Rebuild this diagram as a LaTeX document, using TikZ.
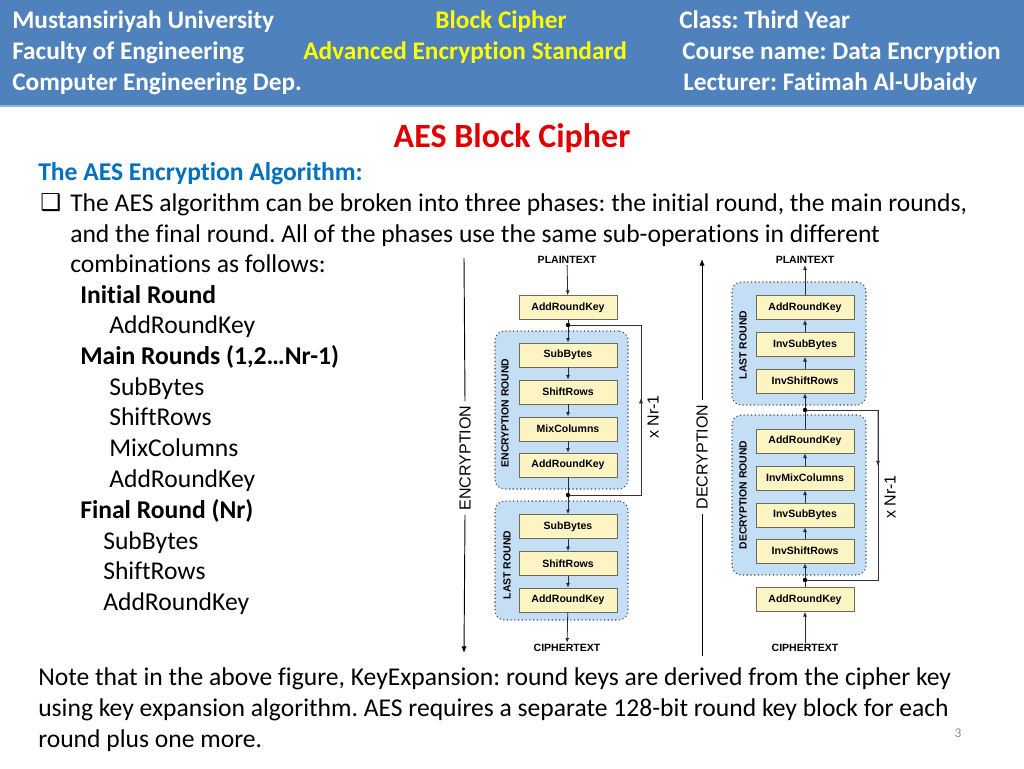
\documentclass[tikz,border=0pt]{standalone}
\usepackage{fontspec}
\setmainfont[Ligatures={NoCommon}]{Carlito}
\newfontfamily\arialf{Liberation Sans}
\newfontfamily\dejavuf{DejaVu Sans}
\usetikzlibrary{arrows.meta,calc}
\frenchspacing
\definecolor{hdr}{HTML}{4F81BD}
\definecolor{hdrline}{HTML}{8DB3E2}
\definecolor{ylw}{HTML}{FFFF00}
\definecolor{ttlred}{HTML}{E00000}
\definecolor{hblue}{HTML}{0070C0}
\definecolor{boxfill}{HTML}{FCF4C2}
\definecolor{boxline}{HTML}{6E6A55}
\definecolor{rfill}{HTML}{C4DEF6}
\definecolor{flowc}{HTML}{1E2D4A}
\definecolor{pgray}{HTML}{8C8C8C}
\tikzset{
  hd/.style={text=white,font=\fontsize{19}{21}\selectfont\bfseries,anchor=base west,inner sep=0},
  hdy/.style={text=ylw,font=\fontsize{19}{21}\selectfont\bfseries,anchor=base,inner sep=0},
  body/.style={font=\fontsize{19.2}{21}\selectfont,anchor=base west,inner sep=0},
  bodyb/.style={font=\fontsize{19.2}{21}\selectfont\bfseries,anchor=base west,inner sep=0},
  opbox/.style={draw=boxline,line width=0.5pt,fill=boxfill,minimum width=73.5pt,minimum height=18pt,inner sep=0,
     font=\arialf\bfseries\fontsize{7.9}{8}\selectfont},
  rbox/.style={draw=black!75,dotted,line width=0.8pt,fill=rfill,rounded corners=7pt,inner sep=0},
  rlabel/.style={rotate=90,font=\arialf\bfseries\fontsize{7.8}{8}\selectfont,inner sep=0},
  io/.style={font=\arialf\bfseries\fontsize{7.9}{8}\selectfont,inner sep=1pt},
  side/.style={rotate=90,font=\arialf\fontsize{12}{12}\selectfont,inner sep=3pt},
  flow/.style={draw=flowc,line width=0.6pt,-{Latex[length=3.5pt,width=3pt]}},
  loopl/.style={draw=black!80,line width=0.6pt},
  tip/.style={draw=black!80,line width=0.6pt,-{Latex[length=4pt,width=3.2pt]}},
  dotc/.style={fill=black},
}
\begin{document}
\begin{tikzpicture}[x=0.75pt,y=-0.75pt]
\useasboundingbox (0,0) rectangle (1024,768);
\fill[white] (0,0) rectangle (1024,768);
% header
\fill[hdr] (0,0) rectangle (1024,106);
\fill[hdrline] (0,105) rectangle (1024,107);
\node[hd] (h1) at (12,28) {Mustansiriyah University};
\node[hd] (h2) at (12,59) {Faculty of Engineering};
\node[hd] (h3) at (12,90) {Computer Engineering Dep.};
\node[hdy] (h4) at (501,28) {Block Cipher};
\node[hdy] (h5) at (465,59) {Advanced Encryption Standard};
\node[hd] (h6) at (679,28) {Class: Third Year};
\node[hd] (h7) at (682,59) {Course name: Data Encryption};
\node[hd] (h8) at (683,90) {Lecturer: Fatimah Al-Ubaidy};
% title
\node[font=\fontsize{25.5}{28}\selectfont\bfseries,text=ttlred,anchor=base,inner sep=0] (ttl) at (512,147) {AES Block Cipher};
\node[font=\fontsize{19.2}{21}\selectfont\bfseries,text=hblue,anchor=base west,inner sep=0] (sub) at (38,180) {The AES Encryption Algorithm:};
% bullet text
\node[font=\dejavuf\fontsize{17.5}{19}\selectfont,anchor=base west,inner sep=0] (chk) at (40,210) {❑};
\node[body] (l1) at (70,211) {The AES algorithm can be broken into three phases: the initial round, the main rounds,};
\node[body] (l2) at (70,242) {and the final round. All of the phases use the same sub-operations in different};
\node[body] (l3) at (70,272) {combinations as follows:};
\node[bodyb] (l4) at (80,303) {Initial Round};
\node[body] (l5) at (109,333) {AddRoundKey};
\node[bodyb] (l6) at (80,364) {Main Rounds (1,2…Nr-1)};
\node[body] (l7) at (109,395) {SubBytes};
\node[body] (l8) at (109,425) {ShiftRows};
\node[body] (l9) at (109,456) {MixColumns};
\node[body] (l10) at (109,487) {AddRoundKey};
\node[bodyb] (l11) at (80,518) {Final Round (Nr)};
\node[body] (l12) at (103,549) {SubBytes};
\node[body] (l13) at (103,579) {ShiftRows};
\node[body] (l14) at (103,610) {AddRoundKey};
\node[body] (n1) at (38,685) {Note that in the above figure, KeyExpansion: round keys are derived from the cipher key};
\node[body] (n2) at (38,716) {using key expansion algorithm. AES requires a separate 128-bit round key block for each};
\node[body] (n3) at (38,747) {round plus one more.};
\node[font=\fontsize{10}{12}\selectfont,text=pgray,anchor=base,inner sep=0] (pg) at (958,737) {3};
% ===== encryption diagram =====
\node[rbox,minimum width=99.75pt,minimum height=118.5pt] (er) at (561.5,410) {};
\node[rbox,minimum width=99.75pt,minimum height=89.25pt] (elr) at (561.5,560.5) {};
\node[io] (ept) at (567,260) {PLAINTEXT};
\node[io] (ect) at (567,648) {CIPHERTEXT};
\node[opbox] (e0) at (568,307.5) {AddRoundKey};
\node[opbox] (e1) at (568,355) {SubBytes};
\node[opbox] (e2) at (568,392) {ShiftRows};
\node[opbox] (e3) at (568,429) {MixColumns};
\node[opbox] (e4) at (568,465) {AddRoundKey};
\node[opbox] (e5) at (568,526.5) {SubBytes};
\node[opbox] (e6) at (568,563.5) {ShiftRows};
\node[opbox] (e7) at (568,600) {AddRoundKey};
\node[rlabel] (erl) at (505,413) {ENCRYPTION ROUND};
\node[rlabel] (elrl) at (507,565) {LAST ROUND};
\coordinate (ed1) at (568,325);
\coordinate (ed2) at (568,495);
\coordinate (eL1) at (641,495);
\coordinate (eL2) at (641,325);
\draw[flow] (ept) -- (e0);
\draw[flow] (e0) -- (e1);
\draw[flow] (e1) -- (e2);
\draw[flow] (e2) -- (e3);
\draw[flow] (e3) -- (e4);
\draw[flow] (e4) -- (e5);
\draw[flow] (e5) -- (e6);
\draw[flow] (e6) -- (e7);
\draw[flow] (e7) -- (ect);
\draw[loopl] (ed2) -- (eL1) -- (eL2) -- (ed1);
\draw[tip] (eL1) -- ($(eL1)!0.57!(eL2)$);
\fill[dotc] (ed1) circle (2.2);
\fill[dotc] (ed2) circle (2.2);
\node[side] (enr) at (653,417) {x Nr-1};
\node[side] (enc) at (465,458) {ENCRYPTION};
\coordinate (encT) at (464,258);
\coordinate (encB) at (464,653);
\draw[line width=0.7pt] (encT) -- (enc.east);
\draw[line width=0.7pt,-{Latex[length=5pt,width=4pt]}] (enc.west) -- (encB);
% ===== decryption diagram =====
\node[rbox,minimum width=100.5pt,minimum height=92.25pt] (dlr) at (799,343.5) {};
\node[rbox,minimum width=100.5pt,minimum height=120pt] (dr) at (799,495) {};
\node[io] (dpt) at (805,260) {PLAINTEXT};
\node[io] (dct) at (805,648) {CIPHERTEXT};
\node[opbox] (d0) at (805,307.5) {AddRoundKey};
\node[opbox] (d1) at (805,344.5) {InvSubBytes};
\node[opbox] (d2) at (805,381) {InvShiftRows};
\node[opbox] (d3) at (805,441) {AddRoundKey};
\node[opbox] (d4) at (805,478) {InvMixColumns};
\node[opbox] (d5) at (805,515) {InvSubBytes};
\node[opbox] (d6) at (805,551) {InvShiftRows};
\node[opbox] (d7) at (805,599.5) {AddRoundKey};
\node[rlabel] (dlrl) at (743,345) {LAST ROUND};
\node[rlabel] (drl) at (743,495) {DECRYPTION ROUND};
\coordinate (dd1) at (805,410);
\coordinate (dd2) at (805,580);
\coordinate (dL1) at (878,410);
\coordinate (dL2) at (878,580);
\draw[flow] (dct) -- (d7);
\draw[flow] (d7) -- (d6);
\draw[flow] (d6) -- (d5);
\draw[flow] (d5) -- (d4);
\draw[flow] (d4) -- (d3);
\draw[flow] (d3) -- (d2);
\draw[flow] (d2) -- (d1);
\draw[flow] (d1) -- (d0);
\draw[flow] (d0) -- (dpt);
\draw[loopl] (dd1) -- (dL1) -- (dL2) -- (dd2);
\draw[tip] (dL1) -- ($(dL1)!0.33!(dL2)$);
\fill[dotc] (dd1) circle (2.2);
\fill[dotc] (dd2) circle (2.2);
\node[side] (dnr) at (890,497) {x Nr-1};
\node[side] (dec) at (702,457) {DECRYPTION};
\coordinate (decT) at (702,259);
\coordinate (decB) at (702,656);
\draw[line width=0.7pt,-{Latex[length=5pt,width=4pt]}] (dec.east) -- (decT);
\draw[line width=0.7pt] (decB) -- (dec.west);
\end{tikzpicture}
\end{document}
